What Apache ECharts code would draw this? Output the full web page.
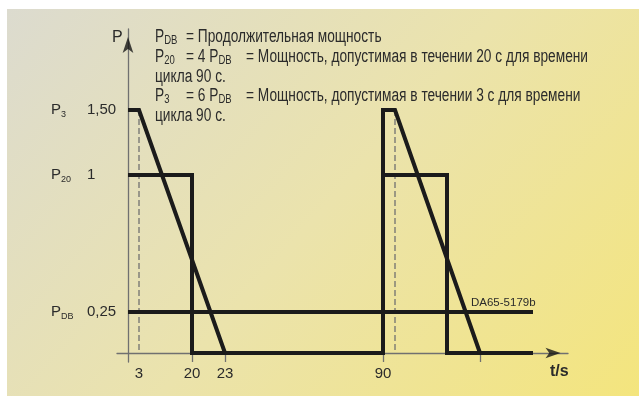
<!DOCTYPE html>
<html><head><meta charset="utf-8">
<script src="https://cdn.jsdelivr.net/npm/echarts@6/dist/echarts.min.js"></script>
<style>html,body{margin:0;padding:0;background:#fff}#c{width:639px;height:396px}</style>
</head><body><div id="c"></div>
<script>
// Schematic (not to scale) diagram: positions along each axis are the drawing's own units.
// time instants (s) and their schematic positions on the t axis
const timeInstants = [0, 3, 20, 23, 90, 93, 110, 113];
const timePos      = [0, 11, 64, 97, 255, 267, 319, 352];
const timeEndPos   = 405;
// tick labels / tick marks on the t axis
const timeTickLabels   = ['3', '20', '23', '90'];
const timeTickLabelPos = [11, 64, 97, 255];
const timeTickMarkPos  = [64, 97, 255, 352];
// power levels
const powerValueLabels = ['0,25', '1', '1,50'];
const powerSubscripts  = ['DB', '20', '3'];
const powerPos         = [41, 178, 243];
// arrow heads of the axes (schematic units)
const xArrowPos = [432.5, 0];
const yArrowPos = [0, 316];

const P = (t) => timePos[timeInstants.indexOf(t)];
const [yDB, y20, y3] = powerPos;
// series (in schematic units)
const pdbSeries  = [[0, yDB], [timeEndPos, yDB]];
const p20Series  = [[P(0), y20], [P(20), y20], [P(20), 0], [P(90), 0], [P(90), y20], [P(110), y20], [P(110), 0], [timeEndPos, 0]];
const p3Series1  = [[P(0), y3], [P(3), y3], [P(23), 0]];
const p3Series2  = [[P(90), 0], [P(90), y3], [P(93), y3], [P(113), 0]];
const dashSeries = [[P(3), y3], [P(3), 0], null, [P(93), y3], [P(93), 0]];

const SANS = "'Liberation Sans', Arial, sans-serif";
const TXT = '#2b2b2b';
const AX = '#707070';

// condensed look of the legend text: measure and squeeze horizontally
const FS = 18;
const ctx = document.createElement('canvas').getContext('2d');
ctx.font = FS + 'px ' + SANS;
const refW = ctx.measureText('= Мощность, допустимая в течении 20 с для времени').width;
const SQ = 342 / refW;

const chart = echarts.init(document.getElementById('c'), null, {renderer: 'canvas'});
const thick = {color: '#1b1b1b', width: 4, join: 'miter', cap: 'butt'};
function lineSeries(data, style) {
  return {type: 'line', data: data, symbol: 'none', lineStyle: style, silent: true, animation: false, z: 5};
}
const richTop = {
  m: {fontFamily: SANS, fontSize: FS, lineHeight: 20, color: TXT},
  s: {fontFamily: SANS, fontSize: 12.5, lineHeight: 11, verticalAlign: 'bottom', color: TXT}
};
function topText(x, y, text) {
  return {type: 'text', x: x, y: y, scaleX: SQ, z: 20, silent: true,
    style: {text: text, fill: TXT, verticalAlign: 'middle', align: 'left', font: FS + 'px ' + SANS, rich: richTop}};
}
chart.setOption({
  animation: false,
  grid: {left: 117, right: 71, top: 29, bottom: 34, containLabel: false},
  xAxis: {
    type: 'value', min: -11, max: 440,
    axisLine: {show: true, onZero: true, lineStyle: {color: AX, width: 1.3}},
    axisTick: {show: true, customValues: timeTickMarkPos, length: 9, lineStyle: {color: AX, width: 1.3}},
    axisLabel: {show: true, customValues: timeTickLabelPos, margin: 4, color: TXT, fontFamily: SANS, fontSize: 15,
      formatter: (v) => timeTickLabels[timeTickLabelPos.indexOf(v)] || ''},
    splitLine: {show: false}
  },
  yAxis: {
    type: 'value', min: -9, max: 324,
    axisLine: {show: true, onZero: true, lineStyle: {color: AX, width: 1.3}},
    axisTick: {show: false},
    axisLabel: {show: true, customValues: powerPos, margin: 66, align: 'left', color: TXT,
      formatter: (v) => { const i = powerPos.indexOf(v); return '{p|P}{s|' + powerSubscripts[i] + '}{v|' + powerValueLabels[i] + '}'; },
      rich: {
        p: {fontFamily: SANS, fontSize: 15, lineHeight: 18, color: TXT},
        s: {fontFamily: SANS, fontSize: 9, lineHeight: 10, verticalAlign: 'bottom', width: 26, align: 'left', color: TXT},
        v: {fontFamily: SANS, fontSize: 15, lineHeight: 18, color: TXT}
      }
    },
    splitLine: {show: false}
  },
  graphic: {elements: [
    {type: 'rect', z: -100, silent: true, shape: {x: 7, y: 9, width: 632, height: 387},
      style: {fill: {type: 'linear', x: 7, y: 9, x2: 560, y2: 500, global: true,
        colorStops: [{offset: 0, color: '#dcdbcf'}, {offset: 0.5, color: '#ebe3ac'}, {offset: 1, color: '#f4e57c'}]}}},
    topText(155, 37, '{m|P}{s|DB}'),
    topText(186, 37, '{m|= Продолжительная мощность}'),
    topText(155, 57, '{m|P}{s|20}'),
    topText(186, 57, '{m|= 4 P}{s|DB}'),
    topText(246, 57, '{m|= Мощность, допустимая в течении 20 с для времени}'),
    topText(155, 77, '{m|цикла 90 с.}'),
    topText(155, 96, '{m|P}{s|3}'),
    topText(186, 96, '{m|= 6 P}{s|DB}'),
    topText(246, 96, '{m|= Мощность, допустимая в течении 3 с для времени}'),
    topText(155, 116, '{m|цикла 90 с.}'),
    {type: 'text', x: 112, y: 38, z: 20, silent: true, style: {text: 'P', fill: TXT, font: '16px ' + SANS, verticalAlign: 'middle'}},
    {type: 'text', x: 550, y: 372, z: 20, silent: true, style: {text: 't/s', fill: TXT, font: 'bold 16px ' + SANS, verticalAlign: 'middle'}},
    {type: 'text', x: 471, y: 303, z: 20, silent: true, style: {text: 'DA65-5179b', fill: TXT, font: '11.5px ' + SANS, verticalAlign: 'middle'}}
  ]},
  series: [
    lineSeries(dashSeries, {color: AX, width: 1.3, type: [6, 3]}),
    lineSeries(pdbSeries, thick),
    lineSeries(p20Series, thick),
    lineSeries(p3Series1, thick),
    lineSeries(p3Series2, thick),
    {type: 'scatter', data: [xArrowPos], symbol: 'arrow', symbolSize: [8, 15], symbolRotate: -90, clip: false, silent: true,
      itemStyle: {color: '#151515'}, z: 6},
    {type: 'scatter', data: [yArrowPos], symbol: 'arrow', symbolSize: [8, 16], symbolRotate: 0, clip: false, silent: true,
      itemStyle: {color: '#151515'}, z: 6}
  ]
});
</script></body></html>
